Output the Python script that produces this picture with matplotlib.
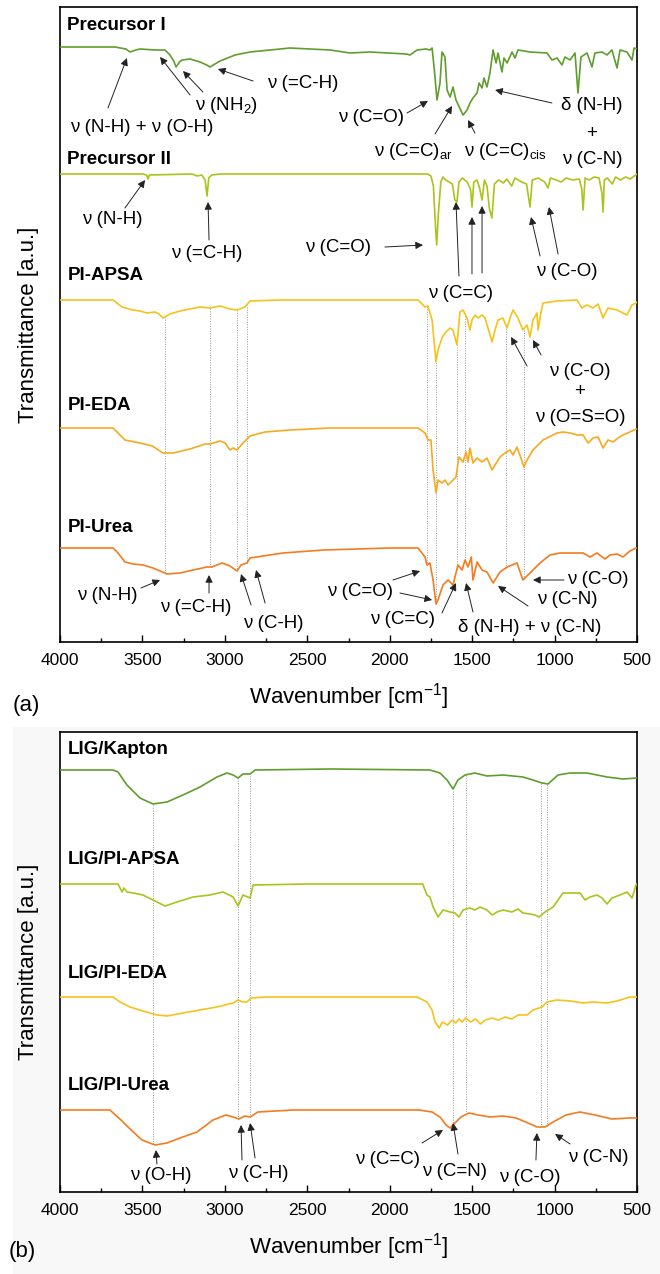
import numpy as np
import matplotlib.pyplot as plt
from matplotlib.patches import Rectangle

plt.rcParams['font.family'] = ['Liberation Sans', 'DejaVu Sans']
plt.rcParams['mathtext.fontset'] = 'custom'
plt.rcParams['mathtext.rm'] = 'Liberation Sans'
plt.rcParams['mathtext.it'] = 'Liberation Sans:italic'
plt.rcParams['mathtext.bf'] = 'Liberation Sans:bold'

# ---- panel (a): precursors and polyimides (wavenumber, transmittance a.u.) ----
pre1_wn = [4000, 3666, 3600, 3575, 3540, 3515, 3424, 3363, 3333, 3310, 3296, 3275, 3260, 3211, 3151, 3110, 3090,
           3060, 3029, 2938, 2847, 2605, 2362, 2241, 2120, 1900, 1877, 1834, 1780, 1756, 1743, 1731, 1713, 1695,
           1683, 1665, 1652, 1634, 1616, 1598, 1555, 1531, 1513, 1495, 1470, 1458, 1440, 1428, 1410, 1392, 1373,
           1355, 1343, 1319, 1307, 1288, 1258, 1240, 1222, 1149, 1046, 1016, 985, 955, 937, 906, 876, 858, 840,
           803, 773, 755, 712, 682, 652, 621, 603, 561, 530, 518, 500]
pre1_t = [0, 0, -2, -5, -3, -2, -3, -3, -8, -14, -20, -15, -13, -12, -15, -18, -20,
          -17, -14, -8, -5, -1, -3, -6, -5, -7, -8, -3, -2, -3, -1, -20, -53, -36,
          -5, -10, -43, -50, -40, -53, -68, -63, -56, -51, -46, -36, -41, -31, -40, -26, -3,
          -16, -6, -25, -11, -16, -5, -11, -3, -5, -6, -13, -11, -18, -10, -13, -6, -46, -10,
          -6, -20, -6, -5, -8, -3, -21, -3, -5, -13, -1, -2]

pre2_wn = [4000, 3500, 3475, 3466, 3458, 3200, 3169, 3140, 3120, 3108, 3098, 3080, 3029, 1770, 1750, 1735, 1725,
           1715, 1705, 1690, 1677, 1660, 1640, 1620, 1605, 1592, 1580, 1560, 1530, 1510, 1501, 1490, 1470, 1455,
           1440, 1425, 1410, 1395, 1380, 1365, 1340, 1310, 1290, 1260, 1240, 1200, 1170, 1149, 1135, 1100, 1060,
           1040, 1025, 990, 960, 930, 890, 850, 835, 827, 815, 790, 760, 730, 712, 706, 698, 680, 650, 630, 600,
           570, 540, 500]
pre2_t = [0, 0, -1, -5, -1, 0, -2, -1, -6, -22, -4, -1, 0, 0, -2, -12, -45,
          -71, -40, -8, -3, -6, -8, -10, -26, -28, -8, -4, -8, -15, -33, -8, -6, -14,
          -26, -6, -12, -35, -44, -10, -6, -9, -5, -12, -4, -8, -10, -33, -6, -4, -8,
          -14, -4, -6, -8, -4, -6, -5, -15, -36, -4, -6, -3, -4, -20, -38, -6, -4, -10, -3, -6,
          -3, -5, 0]

apsa_wn = [4000, 3678, 3624, 3560, 3515, 3472, 3424, 3400, 3375, 3333, 3272, 3151, 3090, 3029, 2969, 2926, 2878,
           2847, 2665, 1828, 1786, 1768, 1743, 1719, 1707, 1683, 1665, 1634, 1616, 1592, 1574, 1555, 1531, 1513,
           1501, 1483, 1464, 1440, 1422, 1404, 1379, 1361, 1343, 1313, 1288, 1270, 1252, 1222, 1192, 1167, 1149,
           1131, 1107, 1100, 1082, 1070, 985, 864, 834, 803, 767, 736, 706, 676, 621, 561, 530, 506, 500]
apsa_t = [0, 0, -7, -10, -11, -13, -12, -14, -18, -14, -11, -7, -8, -6, -9, -10, -7,
          -1, 0, 0, -7, -6, -20, -62, -50, -38, -33, -28, -30, -45, -12, -10, -18, -30,
          -20, -15, -18, -15, -18, -28, -42, -30, -20, -18, -28, -18, -10, -18, -30, -25, -37,
          -20, -13, -30, -12, -3, -1, 0, -8, -5, -8, -4, -18, -8, -10, -15, -5, -3, -2]

eda_wn = [4000, 3678, 3648, 3606, 3515, 3440, 3375, 3314, 3211, 3120, 3090, 3029, 2999, 2969, 2950, 2926, 2890,
          2847, 2756, 2605, 2362, 1828, 1786, 1768, 1750, 1737, 1719, 1707, 1683, 1665, 1646, 1616, 1598, 1580,
          1555, 1537, 1525, 1513, 1495, 1470, 1440, 1410, 1379, 1361, 1331, 1301, 1270, 1252, 1228, 1200, 1186,
          1167, 1131, 1070, 985, 949, 906, 864, 827, 797, 767, 736, 706, 676, 645, 615, 585, 543, 506, 500]
eda_t = [0, 0, -5, -12, -15, -18, -25, -25, -21, -16, -16, -13, -15, -22, -20, -22, -15,
         -8, -4, -2, 0, 0, -5, -12, -12, -42, -65, -52, -55, -52, -57, -52, -49, -29,
         -34, -24, -34, -20, -35, -30, -34, -30, -42, -37, -29, -25, -22, -27, -19, -32, -39,
         -32, -22, -12, -5, -4, -5, -7, -7, -15, -10, -9, -20, -12, -14, -10, -7, -4, -1, -1]

urea_wn = [4000, 3678, 3648, 3606, 3557, 3497, 3436, 3351, 3272, 3193, 3108, 3078, 3017, 2969, 2926, 2902, 2866,
           2847, 2769, 2647, 2400, 2000, 1828, 1786, 1774, 1756, 1737, 1719, 1707, 1677, 1646, 1616, 1586, 1561,
           1543, 1525, 1505, 1495, 1470, 1440, 1410, 1373, 1331, 1288, 1258, 1228, 1192, 1149, 1088, 1028, 967,
           906, 827, 785, 743, 694, 664, 621, 585, 543, 506, 500]
urea_t = [0, 0, -5, -14, -16, -17, -20, -26, -25, -22, -19, -19, -15, -18, -23, -17, -15,
          -10, -8, -5, -2, 0, 0, -9, -17, -15, -32, -56, -52, -37, -32, -37, -17, -22,
          -12, -19, -9, -32, -14, -22, -24, -35, -24, -19, -17, -15, -32, -25, -15, -7, -5,
          -5, -5, -9, -5, -11, -7, -6, -9, -3, 0, 0]

# ---- panel (b): laser-induced graphene ----
lk_wn = [4000, 3678, 3648, 3594, 3515, 3436, 3351, 3254, 3151, 3048, 2987, 2950, 2920, 2890, 2847, 2817, 2362,
         1756, 1695, 1652, 1616, 1586, 1543, 1483, 1410, 1313, 1192, 1131, 1076, 1040, 979, 906, 803, 682, 585, 500]
lk_t = [0, 0, -2, -15, -28, -34, -32, -25, -17, -7, -3, -5, -8, -4, -4, 0, 1,
        0, -3, -10, -19, -10, -5, -3, -6, -5, -7, -10, -13, -14, -5, -3, -3, -7, -9, -8]

la_wn = [4000, 3648, 3624, 3612, 3594, 3557, 3497, 3436, 3363, 3290, 3193, 3090, 3011, 2950, 2920, 2890, 2847,
         2829, 2500, 1800, 1774, 1756, 1737, 1707, 1677, 1634, 1604, 1580, 1555, 1513, 1483, 1452, 1410, 1379,
         1349, 1313, 1258, 1222, 1192, 1149, 1119, 1094, 1058, 1009, 949, 846, 815, 785, 743, 712, 682, 652, 603,
         561, 530, 506, 500]
la_t = [0, 0, -8, -4, -8, -9, -11, -16, -22, -18, -13, -11, -8, -13, -22, -11, -14,
        -1, 0, 0, -11, -13, -23, -33, -26, -28, -29, -33, -26, -24, -26, -23, -26, -31,
        -28, -26, -28, -25, -29, -30, -31, -33, -28, -23, -9, -9, -16, -13, -11, -14, -20, -14, -11,
        -8, -14, -1, 0]

le_wn = [4000, 3678, 3636, 3575, 3497, 3412, 3351, 3254, 3151, 3048, 2950, 2920, 2890, 2866, 2841, 2744, 1834,
         1774, 1743, 1725, 1700, 1680, 1650, 1620, 1600, 1580, 1560, 1540, 1510, 1480, 1450, 1420, 1380, 1340,
         1300, 1260, 1220, 1167, 1131, 1076, 1046, 985, 906, 827, 767, 682, 621, 543, 500]
le_t = [0, 0, -5, -10, -14, -18, -19, -16, -13, -10, -6, -3, -5, -5, -1, 0, 0,
        -5, -13, -25, -31, -25, -28, -23, -26, -22, -25, -21, -25, -22, -27, -23, -21, -23,
        -20, -22, -18, -18, -13, -10, -5, -3, -4, -6, -5, -6, -4, 0, 0]

lu_wn = [4000, 3697, 3630, 3581, 3503, 3424, 3351, 3272, 3169, 3072, 2993, 2950, 2914, 2880, 2847, 2800, 2587,
         1822, 1743, 1695, 1658, 1634, 1604, 1568, 1519, 1464, 1392, 1313, 1234, 1161, 1107, 1058, 1009, 931,
         846, 755, 652, 548, 500]
lu_t = [0, 0, -10, -18, -30, -35, -33, -28, -22, -10, -5, -7, -9, -6, -7, -2, 0,
        0, -2, -7, -15, -18, -13, -7, -3, -5, -7, -6, -8, -13, -17, -17, -12, -5,
        -2, -5, -9, -8, -8]

green, lime, gold, amber, orange = '#5e9e2c', '#a9c41c', '#f6c21c', '#f8a91f', '#f47b20'

series_a = [('Precursor I', pre1_wn, pre1_t, 595, green, 617),
            ('Precursor II', pre2_wn, pre2_t, 468, lime, 483),
            ('PI-APSA', apsa_wn, apsa_t, 342, gold, 366),
            ('PI-EDA', eda_wn, eda_t, 214, amber, 237),
            ('PI-Urea', urea_wn, urea_t, 94, orange, 115)]
series_b = [('LIG/Kapton', lk_wn, lk_t, 422, green, 442),
            ('LIG/PI-APSA', la_wn, la_t, 308, lime, 333),
            ('LIG/PI-EDA', le_wn, le_t, 195, gold, 219),
            ('LIG/PI-Urea', lu_wn, lu_t, 82, orange, 107)]

guides_a = [3363, 3090, 2926, 2866, 1774, 1719, 1592, 1543, 1295, 1186]
guides_b = [3436, 2920, 2847, 1616, 1537, 1082, 1046]

N = 'ν'
notes_a = [
    (f'{N} (N-H) + {N} (O-H)', (3503, 514), [((3709, 534), (3594, 584))]),
    (f'{N} (NH$_2$)', (2987, 537), [((3211, 547), (3393, 585)), ((3133, 550), (3254, 571))]),
    (f'{N} (=C-H)', (2526, 558), [((2829, 561), (3042, 573))]),
    (f'{N} (C=O)', (2113, 525), [((1895, 529), (1768, 541))]),
    (f'{N} (C=C)$_{{\\mathrm{{ar}}}}$', (1859, 490), [((1725, 508), (1622, 536))]),
    (f'{N} (C=C)$_{{\\mathrm{{cis}}}}$', (1301, 490), [((1483, 509), (1525, 522))]),
    ('δ (N-H)', (773, 536), [((1016, 539), (1361, 552))]),
    ('+', (773, 509), []),
    (f'{N} (C-N)', (773, 483), []),
    (f'{N} (N-H)', (3685, 422), [((3606, 434), (3484, 462))]),
    (f'{N} (=C-H)', (3108, 389), [((3096, 402), (3102, 440))]),
    (f'{N} (C=O)', (2314, 394), [((2029, 395), (1798, 397))]),
    (f'{N} (C=C)', (1568, 349), [((1580, 366), (1598, 440)), ((1501, 368), (1501, 425)),
                                 ((1440, 369), (1440, 436))]),
    (f'{N} (C-O)', (925, 370), [((1088, 386), (1143, 425)), ((979, 388), (1034, 435))]),
    (f'{N} (C-O)', (846, 270), [((1167, 276), (1264, 305)), ((1082, 287), (1131, 302))]),
    ('+', (846, 250), []),
    (f'{N} (O=S=O)', (846, 225), []),
    (f'{N} (N-H)', (3715, 47), [((3509, 54), (3393, 62))]),
    (f'{N} (=C-H)', (3175, 35), [((3096, 49), (3096, 67))]),
    (f'{N} (C-H)', (2708, 19), [((2841, 37), (2902, 68)), ((2756, 39), (2811, 72))]),
    (f'{N} (C=O)', (2180, 50), [((1980, 62), (1816, 71)), ((1938, 49), (1743, 42))]),
    (f'{N} (C=C)', (1925, 22), [((1683, 29), (1598, 59))]),
    (f'δ (N-H) + {N} (C-N)', (1149, 15), [((1495, 30), (1537, 59))]),
    (f'{N} (C-N)', (925, 42), [((1161, 36), (1343, 56))]),
    (f'{N} (C-O)', (737, 62), [((943, 62), (1131, 62))]),
]
notes_b = [
    (f'{N} (O-H)', (3387, 17), [((3412, 28), (3418, 42))]),
    (f'{N} (C-H)', (2799, 19), [((2896, 32), (2902, 67)), ((2817, 34), (2847, 69))]),
    (f'{N} (C=C)', (2016, 32), [((1804, 49), (1677, 62))]),
    (f'{N} (C=N)', (1604, 20), [((1586, 38), (1616, 69))]),
    (f'{N} (C-O)', (1149, 15), [((1113, 32), (1107, 59))]),
    (f'{N} (C-N)', (737, 34), [((906, 48), (997, 58))]),
]

W, H = 660, 1274
fig = plt.figure(figsize=(W / 100, H / 100), dpi=100)
fig.patches.append(Rectangle((13 / W, 0), 1 - 13 / W, 1 - 727 / H, transform=fig.transFigure,
                             facecolor='#f8f8f8', edgecolor='none', zorder=-10))


def box(l, t, r, b):
    return [l / W, 1 - b / H, (r - l) / W, (b - t) / H]


ax_a = fig.add_axes(box(60, 7, 637, 642))
ax_b = fig.add_axes(box(60, 732, 637, 1192))


def curve(wn, t, off, x):
    return off + np.interp(x, wn[::-1], t[::-1])


def draw(ax, series, guides, notes, top):
    ax.set_xlim(4000, 500)
    ax.set_ylim(0, top)
    for name, wn, t, off, col, ly in series:
        ax.plot(wn, np.array(t) + off, color=col, lw=1.2, zorder=3)
        ax.text(3955, ly, name, fontsize=13.5, fontweight='bold', ha='left', va='center')
    s0, s1 = series[2] if len(series) == 5 else series[0], series[-1]
    for g in guides:
        y0 = curve(s0[1], s0[2], s0[3], g)
        y1 = curve(s1[1], s1[2], s1[3], g)
        ax.plot([g, g], [y1, y0], color='#9a9a9a', lw=0.7, ls=(0, (1, 1.5)), zorder=1)
    for txt, pos, arrows in notes:
        ax.text(pos[0], pos[1], txt, fontsize=13.5, ha='center', va='center')
        for tail, tip in arrows:
            ax.annotate('', xy=tip, xytext=tail,
                        arrowprops=dict(arrowstyle='-|>', color='#222222', lw=0.7,
                                        shrinkA=0, shrinkB=0, mutation_scale=11))
    ax.set_yticks([])
    ax.set_xticks(np.arange(4000, 499, -500))
    ax.set_xticks(np.arange(3750, 500, -500), minor=True)
    ax.tick_params(axis='x', which='both', direction='in', labelsize=12.5, pad=8, width=1)
    ax.tick_params(axis='x', which='major', length=5)
    ax.tick_params(axis='x', which='minor', length=3)
    for sp in ax.spines.values():
        sp.set_linewidth(1.2)
    ax.set_xlabel('Wavenumber [cm$^{-1}$]', fontsize=16, labelpad=9)
    ax.set_ylabel('Transmittance [a.u.]', fontsize=16, labelpad=15)


draw(ax_a, series_a, guides_a, notes_a, 635)
draw(ax_b, series_b, guides_b, notes_b, 460)

fig.text(26 / W, 1 - 706 / H, '(a)', fontsize=16, ha='center', va='center')
fig.text(22 / W, 1 - 1252 / H, '(b)', fontsize=16, ha='center', va='center')

fig.savefig('out.png', dpi=100)
